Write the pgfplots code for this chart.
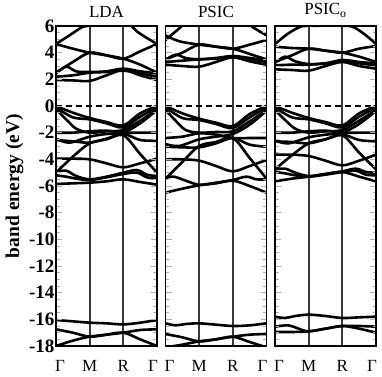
\documentclass[border=0pt]{standalone}
\usepackage{fontspec}
\setmainfont{Liberation Serif}
\usepackage{pgfplots}
\pgfplotsset{compat=1.18}
\pgfplotsset{
  bandaxis/.style={
    scale only axis, width=101pt, height=320pt,
    xmin=0, xmax=3, ymin=-18, ymax=6,
    axis on top,
    axis line style={line width=1.3pt},
    xtick={0.12,1,2,2.88}, xticklabels={Γ,M,R,Γ},
    x tick style={draw=none},
    xticklabel style={font=\fontsize{17}{17}\selectfont, yshift=-10.5pt},
    ytick={-18,-16,...,6}, minor y tick num=3,
    y tick style={gray!60, line width=1pt},
    major tick length=6pt, minor tick length=3.5pt,
    yticklabel style={font=\bfseries\fontsize{19}{19}\selectfont, xshift=2pt},
    /pgf/number format/assume math mode=true,
    title style={font=\fontsize{17}{17}\selectfont, yshift=-1pt},
  },
  band/.style={black, line width=2.6pt, smooth, tension=0.55},
  vline/.style={gray!45!black, line width=2pt},
  zline/.style={black, line width=1.3pt, dash pattern=on 6pt off 4pt},
}
\begin{document}
\begin{tikzpicture}[x=1pt,y=1pt]
\useasboundingbox (0,0) rectangle (382,376);
% ---------------- LDA ----------------
\begin{axis}[bandaxis, at={(56pt,30pt)}, anchor=south west, title={LDA},
  ylabel={\bfseries band energy (eV)},
  ylabel style={font=\bfseries\fontsize{19.5}{19.5}\selectfont, at={(axis description cs:-0.41,0.5)}, anchor=center}]
\addplot[vline] coordinates {(1,-18) (1,6)};
\addplot[vline] coordinates {(2,-18) (2,6)};
\addplot[zline] coordinates {(0,0) (3,0)};
% conduction
\addplot[band] coordinates {(0,1.95)(0.5,1.92)(1,1.88)(1.5,2.3)(2,2.7)(2.5,2.3)(3,1.95)};
\addplot[band] coordinates {(0,2.2)(0.5,2.3)(1,2.5)(1.5,2.55)(2,2.65)(2.5,2.45)(3,2.2)};
\addplot[band] coordinates {(0,2.45)(0.3,2.95)(0.6,2.6)(1,2.55)(1.5,2.6)(2,2.8)(2.5,2.6)(3,2.45)};
\addplot[band] coordinates {(0,2.5)(0.5,3.3)(1,4.0)(1.5,3.8)(2,3.55)(2.5,4.1)(3,4.65)};
\addplot[band] coordinates {(0,4.65)(0.5,4.3)(1,4.0)(1.5,3.8)(2,3.55)(2.5,3.1)(3,2.5)};
\addplot[band] coordinates {(0,4.65)(0.4,5.3)(0.8,5.95)(1,6.03)(1.5,6.08)(2,6.6)(2.4,5.6)(3,4.65)};
% valence
\addplot[band] coordinates {(0,0)(0.5,-0.5)(1,-0.9)(1.5,-1.2)(2,-1.45)(2.5,-0.55)(3,0)};
\addplot[band] coordinates {(0,-0.1)(0.5,-0.85)(1,-1.0)(1.5,-1.3)(2,-1.6)(2.5,-0.8)(3,-0.1)};
\addplot[band] coordinates {(0,-0.25)(0.3,-1.0)(0.6,-1.7)(1,-2.0)(1.5,-1.9)(2,-1.8)(2.5,-1.1)(3,-0.25)};
\addplot[band] coordinates {(0,-2.0)(0.5,-2.0)(1,-1.9)(1.5,-1.85)(2,-2.0)(2.5,-2.0)(3,-2.0)};
\addplot[band] coordinates {(0,-2.45)(0.4,-2.75)(1,-2.3)(1.5,-2.1)(2,-2.0)(2.5,-1.3)(3,-0.3)};
\addplot[band] coordinates {(0,-2.55)(0.5,-2.65)(1,-2.75)(1.5,-2.45)(2,-2.1)(2.5,-2.55)(3,-2.6)};
\addplot[band] coordinates {(0,-5.0)(0.5,-3.8)(1,-2.8)(1.5,-2.5)(2,-2.2)(2.5,-3.6)(3,-5.0)};
\addplot[band] coordinates {(0,-3.95)(0.5,-3.95)(1,-4.0)(1.5,-4.3)(2,-4.6)(2.5,-4.3)(3,-3.95)};
\addplot[band] coordinates {(0,-4.95)(0.3,-4.85)(0.6,-5.25)(1,-5.5)(1.5,-5.3)(2,-5.0)(2.4,-4.8)(2.7,-5.15)(3,-5.25)};
\addplot[band] coordinates {(0,-5.2)(0.3,-5.3)(0.6,-5.45)(1,-5.55)(1.5,-5.35)(2,-5.1)(2.4,-5.0)(2.7,-5.35)(3,-5.45)};
\addplot[band] coordinates {(0,-5.85)(0.5,-5.8)(1,-5.75)(1.5,-5.65)(2,-5.5)(2.5,-5.7)(3,-5.9)};
% O 2s
\addplot[band] coordinates {(0,-16.05)(0.5,-16.15)(1,-16.25)(1.5,-16.3)(2,-16.38)(2.5,-16.25)(3,-16.05)};
\addplot[band] coordinates {(0,-16.75)(0.5,-17.0)(1,-17.3)(1.5,-17.15)(2,-17.0)(2.5,-16.8)(3,-16.75)};
\addplot[band] coordinates {(0,-18.0)(0.5,-17.6)(1,-17.3)(1.5,-17.15)(2,-17.0)(2.5,-17.5)(3,-18.0)};
\end{axis}
% ---------------- PSIC ----------------
\begin{axis}[bandaxis, at={(165.5pt,30pt)}, anchor=south west, title={PSIC}, yticklabels={}]
\addplot[vline] coordinates {(1,-18) (1,6)};
\addplot[vline] coordinates {(2,-18) (2,6)};
\addplot[zline] coordinates {(0,0) (3,0)};
\addplot[band] coordinates {(0,3.1)(0.5,3.0)(1,2.95)(1.5,3.3)(2,3.65)(2.5,3.35)(3,3.1)};
\addplot[band] coordinates {(0,3.3)(0.5,3.4)(1,3.5)(1.5,3.55)(2,3.65)(2.5,3.5)(3,3.3)};
\addplot[band] coordinates {(0,3.45)(0.3,3.85)(0.6,3.6)(1,3.5)(1.5,3.6)(2,3.75)(2.5,3.6)(3,3.45)};
\addplot[band] coordinates {(0,3.5)(0.5,4.0)(1,4.6)(1.5,4.45)(2,4.3)(2.5,4.6)(3,4.95)};
\addplot[band] coordinates {(0,5.3)(0.25,5.0)(0.5,4.8)(1,4.6)(1.5,4.45)(2,4.3)(2.5,3.9)(3,3.5)};
\addplot[band] coordinates {(0,4.95)(0.4,5.8)(0.8,6.6)(1.5,7.0)(2.2,6.6)(2.6,5.9)(3,5.3)};
\addplot[band] coordinates {(0,0)(0.5,-0.55)(1,-0.95)(1.5,-1.25)(2,-1.5)(2.5,-0.6)(3,0)};
\addplot[band] coordinates {(0,-0.1)(0.5,-0.9)(1,-1.05)(1.5,-1.35)(2,-1.65)(2.5,-0.85)(3,-0.1)};
\addplot[band] coordinates {(0,-0.3)(0.3,-1.1)(0.6,-1.8)(1,-2.0)(1.5,-1.95)(2,-1.9)(2.5,-1.15)(3,-0.3)};
\addplot[band] coordinates {(0,-2.4)(0.5,-2.3)(1,-2.05)(1.5,-2.15)(2,-2.4)(2.5,-2.4)(3,-2.4)};
\addplot[band] coordinates {(0,-2.85)(0.4,-3.0)(1,-2.5)(1.5,-2.3)(2,-2.1)(2.5,-1.4)(3,-0.35)};
\addplot[band] coordinates {(0,-3.05)(0.5,-3.1)(1,-3.1)(1.5,-2.8)(2,-2.4)(2.5,-2.9)(3,-3.05)};
\addplot[band] coordinates {(0,-5.45)(0.5,-4.2)(1,-3.0)(1.5,-2.7)(2,-2.4)(2.5,-3.9)(3,-5.45)};
\addplot[band] coordinates {(0,-4.0)(0.5,-4.0)(1,-4.1)(1.5,-4.5)(2,-4.9)(2.5,-4.5)(3,-4.05)};
\addplot[band] coordinates {(0,-5.4)(0.25,-5.3)(0.6,-5.6)(1,-5.9)(1.5,-5.75)(2,-5.55)(2.4,-5.3)(2.7,-5.5)(3,-5.5)};
\addplot[band] coordinates {(0,-6.5)(0.5,-6.2)(1,-5.95)(1.5,-5.8)(2,-5.6)(2.5,-6.0)(3,-6.5)};
\addplot[band] coordinates {(0,-16.3)(0.3,-16.45)(0.6,-16.35)(1,-16.3)(1.5,-16.4)(2,-16.5)(2.5,-16.45)(3,-16.3)};
\addplot[band] coordinates {(0,-17.1)(0.5,-17.35)(1,-17.65)(1.5,-17.5)(2,-17.3)(2.5,-17.15)(3,-17.1)};
\addplot[band] coordinates {(0,-18.1)(0.5,-17.9)(1,-17.65)(1.5,-17.5)(2,-17.3)(2.5,-17.7)(3,-18.1)};
\end{axis}
% ---------------- PSIC_o ----------------
\begin{axis}[bandaxis, at={(275pt,30pt)}, anchor=south west, title={PSIC\textsubscript{o}}, yticklabels={}]
\addplot[vline] coordinates {(1,-18) (1,6)};
\addplot[vline] coordinates {(2,-18) (2,6)};
\addplot[zline] coordinates {(0,0) (3,0)};
\addplot[band] coordinates {(0,2.75)(0.5,2.7)(1,2.65)(1.5,3.0)(2,3.3)(2.5,3.0)(3,2.8)};
\addplot[band] coordinates {(0,3.05)(0.5,3.1)(1,3.1)(1.5,3.2)(2,3.35)(2.5,3.2)(3,3.05)};
\addplot[band] coordinates {(0,3.25)(0.3,3.7)(0.6,3.35)(1,3.15)(1.5,3.2)(2,3.45)(2.5,3.3)(3,3.2)};
\addplot[band] coordinates {(0,3.3)(0.5,3.8)(1,4.3)(1.5,4.15)(2,4.0)(2.5,4.3)(3,4.5)};
\addplot[band] coordinates {(0,4.45)(0.5,4.35)(1,4.3)(1.5,4.15)(2,4.0)(2.5,3.7)(3,3.3)};
\addplot[band] coordinates {(0,4.65)(0.4,5.45)(0.8,5.98)(1.2,6.02)(2,6.02)(2.3,5.95)(2.65,5.4)(3,4.65)};
\addplot[band] coordinates {(0,0)(0.5,-0.5)(1,-0.9)(1.5,-1.2)(2,-1.45)(2.5,-0.55)(3,0)};
\addplot[band] coordinates {(0,-0.1)(0.5,-0.85)(1,-1.0)(1.5,-1.3)(2,-1.6)(2.5,-0.8)(3,-0.1)};
\addplot[band] coordinates {(0,-0.3)(0.3,-1.05)(0.6,-1.7)(1,-2.0)(1.5,-1.9)(2,-1.8)(2.5,-1.1)(3,-0.3)};
\addplot[band] coordinates {(0,-2.0)(0.5,-2.0)(1,-1.9)(1.5,-1.85)(2,-2.0)(2.5,-2.0)(3,-2.0)};
\addplot[band] coordinates {(0,-2.6)(0.4,-2.8)(1,-2.35)(1.5,-2.15)(2,-2.0)(2.5,-1.35)(3,-0.35)};
\addplot[band] coordinates {(0,-2.65)(0.5,-2.7)(1,-2.8)(1.5,-2.5)(2,-2.15)(2.5,-2.55)(3,-2.65)};
\addplot[band] coordinates {(0,-4.75)(0.5,-3.7)(1,-2.8)(1.5,-2.5)(2,-2.2)(2.5,-3.5)(3,-4.75)};
\addplot[band] coordinates {(0,-3.65)(0.5,-3.65)(1,-3.75)(1.5,-4.1)(2,-4.45)(2.5,-4.1)(3,-3.65)};
\addplot[band] coordinates {(0,-4.75)(0.3,-4.7)(0.6,-5.0)(1,-5.25)(1.5,-5.1)(2,-4.9)(2.4,-4.7)(2.7,-4.95)(3,-5.0)};
\addplot[band] coordinates {(0,-4.95)(0.3,-5.05)(0.6,-5.2)(1,-5.3)(1.5,-5.15)(2,-4.95)(2.4,-4.85)(2.7,-5.15)(3,-5.2)};
\addplot[band] coordinates {(0,-5.65)(0.5,-5.45)(1,-5.3)(1.5,-5.1)(2,-4.95)(2.5,-5.3)(3,-5.65)};
\addplot[band] coordinates {(0,-15.8)(0.3,-15.9)(0.6,-15.75)(1,-15.65)(1.5,-15.75)(2,-15.9)(2.5,-15.85)(3,-15.8)};
\addplot[band] coordinates {(0,-16.55)(0.4,-16.45)(0.7,-16.7)(1,-16.9)(1.5,-16.7)(2,-16.5)(2.5,-16.5)(3,-16.55)};
\addplot[band] coordinates {(0,-16.95)(0.5,-16.95)(1,-16.9)(1.5,-16.7)(2,-16.5)(2.5,-16.7)(3,-17.0)};
\end{axis}
\end{tikzpicture}
\end{document}
